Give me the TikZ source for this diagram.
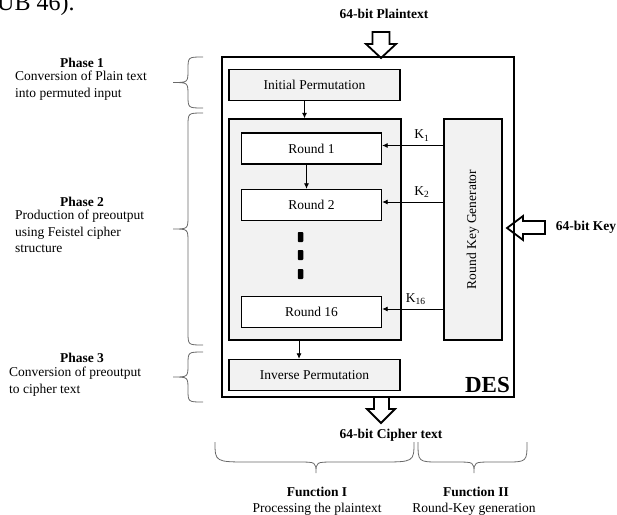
\documentclass[tikz,border=0pt]{standalone}
\usepackage{fontspec}
\setmainfont{Liberation Serif}
\usetikzlibrary{arrows.meta, positioning, calc}

\definecolor{boxgray}{RGB}{242,242,242}
\definecolor{bracegray}{RGB}{105,105,105}

\begin{document}
\begin{tikzpicture}[
    x=1pt, y=-1pt,
    txt/.style={font=\fontsize{13.5}{16.5}\selectfont, inner sep=0pt},
    head/.style={font=\fontsize{13.5}{16.5}\selectfont\bfseries, inner sep=0pt},
    desc/.style={txt, align=left, anchor=north west},
    box/.style={draw, line width=1.4pt, fill=boxgray, inner sep=0pt,
                font=\fontsize{13.5}{16.5}\selectfont},
    roundbox/.style={box, fill=white, minimum width=140pt, minimum height=31pt},
    permbox/.style={box, minimum width=171pt, minimum height=31pt},
    arr/.style={-{Latex[length=5.5pt, width=5pt]}, line width=0.8pt},
    hollow/.style={draw, line width=1.8pt, line join=miter},
    curly/.style={draw=bracegray, line width=0.8pt},
    dotbox/.style={fill=black, minimum width=5.5pt, minimum height=10pt,
                   inner sep=0pt, rounded corners=0.8pt}
  ]
  \useasboundingbox (0,0) rectangle (617,514);

  % caption line cut off by the page
  \node[font=\fontsize{24}{24}\selectfont, anchor=base west, inner sep=0pt] (cut) at (-3,10) {UB 46).};

  % outer DES block
  \node[draw, line width=1.4pt, minimum width=292pt, minimum height=340pt] (des) at (368,227) {};
  \node[font=\fontsize{23}{23}\selectfont\bfseries, anchor=base east, inner sep=0pt] (deslabel) at (510,392) {DES};

  \node[permbox] (ip) at (314.5,85) {Initial Permutation};
  \node[box, minimum width=172pt, minimum height=221pt] (rounds) at (315,229.5) {};
  \node[roundbox] (r1) at (311.5,148.5) {Round 1};
  \node[roundbox] (r2) at (311.5,205) {Round 2};
  \node[roundbox] (r16) at (311.5,312) {Round 16};
  \node[dotbox] (d1) at (300.5,237) {};
  \node[dotbox] (d2) at (300.5,255) {};
  \node[dotbox] (d3) at (300.5,274) {};
  \node[box, minimum width=58pt, minimum height=221pt] (rkg) at (473,229.5) {};
  \node[txt, rotate=90] (rkglabel) at (rkg.center) {Round Key Generator};
  \node[permbox] (invp) at (314.5,375) {Inverse Permutation};

  \draw[arr] ([xshift=-10pt]ip.south) -- ([xshift=-10pt]ip.south |- rounds.north);
  \draw[arr] ([xshift=-5pt]r1.south) -- ([xshift=-5pt]r1.south |- r2.north);
  \draw[arr] ([xshift=-16pt]rounds.south) -- ([xshift=-16pt]rounds.south |- invp.north);

  % round keys
  \draw[arr] ([yshift=3pt]rkg.west |- r1.east) -- ([yshift=3pt]r1.east)
    node[txt, pos=0.35, above=4pt] (k1) {K\textsubscript{1}};
  \draw[arr] ([yshift=3pt]rkg.west |- r2.east) -- ([yshift=3pt]r2.east)
    node[txt, pos=0.35, above=4pt] (k2) {K\textsubscript{2}};
  \draw[arr] ([yshift=3pt]rkg.west |- r16.east) -- ([yshift=3pt]r16.east)
    node[txt, pos=0.45, above=4pt] (k16) {K\textsubscript{16}};

  % input / output arrows
  \node[head] (plain) at (384,14) {64-bit Plaintext};
  \draw[hollow] (372.5,32) -- (389.5,32) -- (389.5,44) -- (396,44) -- (381,58)
    -- (366,44) -- (372.5,44) -- cycle;
  \draw[hollow] (374,397) -- (389,397) -- (389,409) -- (395,409) -- (381,423)
    -- (367,409) -- (374,409) -- cycle;
  \node[head] (cipher) at (391,435) {64-bit Cipher text};
  \draw[hollow] (545,221) -- (523,221) -- (523,216) -- (507,228) -- (523,240)
    -- (523,234) -- (545,234) -- cycle;
  \node[head] (key) at (586,227) {64-bit Key};

  % phases
  \node[head] (ph1) at (82,63) {Phase 1};
  \node[desc] (ph1txt) at (15,71) {Conversion of Plain text\\into permuted input};
  \node[head] (ph2) at (82,202) {Phase 2};
  \node[desc] (ph2txt) at (15,210) {Production of preoutput\\using Feistel cipher\\structure};
  \node[head] (ph3) at (82,358) {Phase 3};
  \node[desc] (ph3txt) at (9,367) {Conversion of preoutput\\to cipher text};

  \draw[curly] (203,57) .. controls (188,57) .. (188,69.5) .. controls (188,82.5) .. (173,82.5)
    .. controls (188,82.5) .. (188,95.5) .. controls (188,108) .. (203,108);
  \draw[curly] (203,113) .. controls (188,113) .. (188,126) -- (188,216) .. controls (188,229) .. (173,229)
    .. controls (188,229) .. (188,242) -- (188,332) .. controls (188,345) .. (203,345);
  \draw[curly] (203,352) .. controls (188,352) .. (188,364.5) .. controls (188,377) .. (173,377)
    .. controls (188,377) .. (188,389.5) .. controls (188,402) .. (203,402);

  % functions
  \draw[curly] (215,442) .. controls (215,462) .. (250,462) -- (298,462) .. controls (316,462) .. (316,473)
    .. controls (316,462) .. (334,462) -- (380,462) .. controls (414,462) .. (414,442);
  \draw[curly] (418,442) .. controls (418,462) .. (440,462) -- (456,462) .. controls (474,462) .. (474,473)
    .. controls (474,462) .. (492,462) -- (505,462) .. controls (527,462) .. (527,442);
  \node[head] (f1) at (317,492) {Function I};
  \node[txt] (f1txt) at (317,509) {Processing the plaintext};
  \node[head] (f2) at (476,492) {Function II};
  \node[txt] (f2txt) at (474,509) {Round-Key generation};
\end{tikzpicture}
\end{document}
